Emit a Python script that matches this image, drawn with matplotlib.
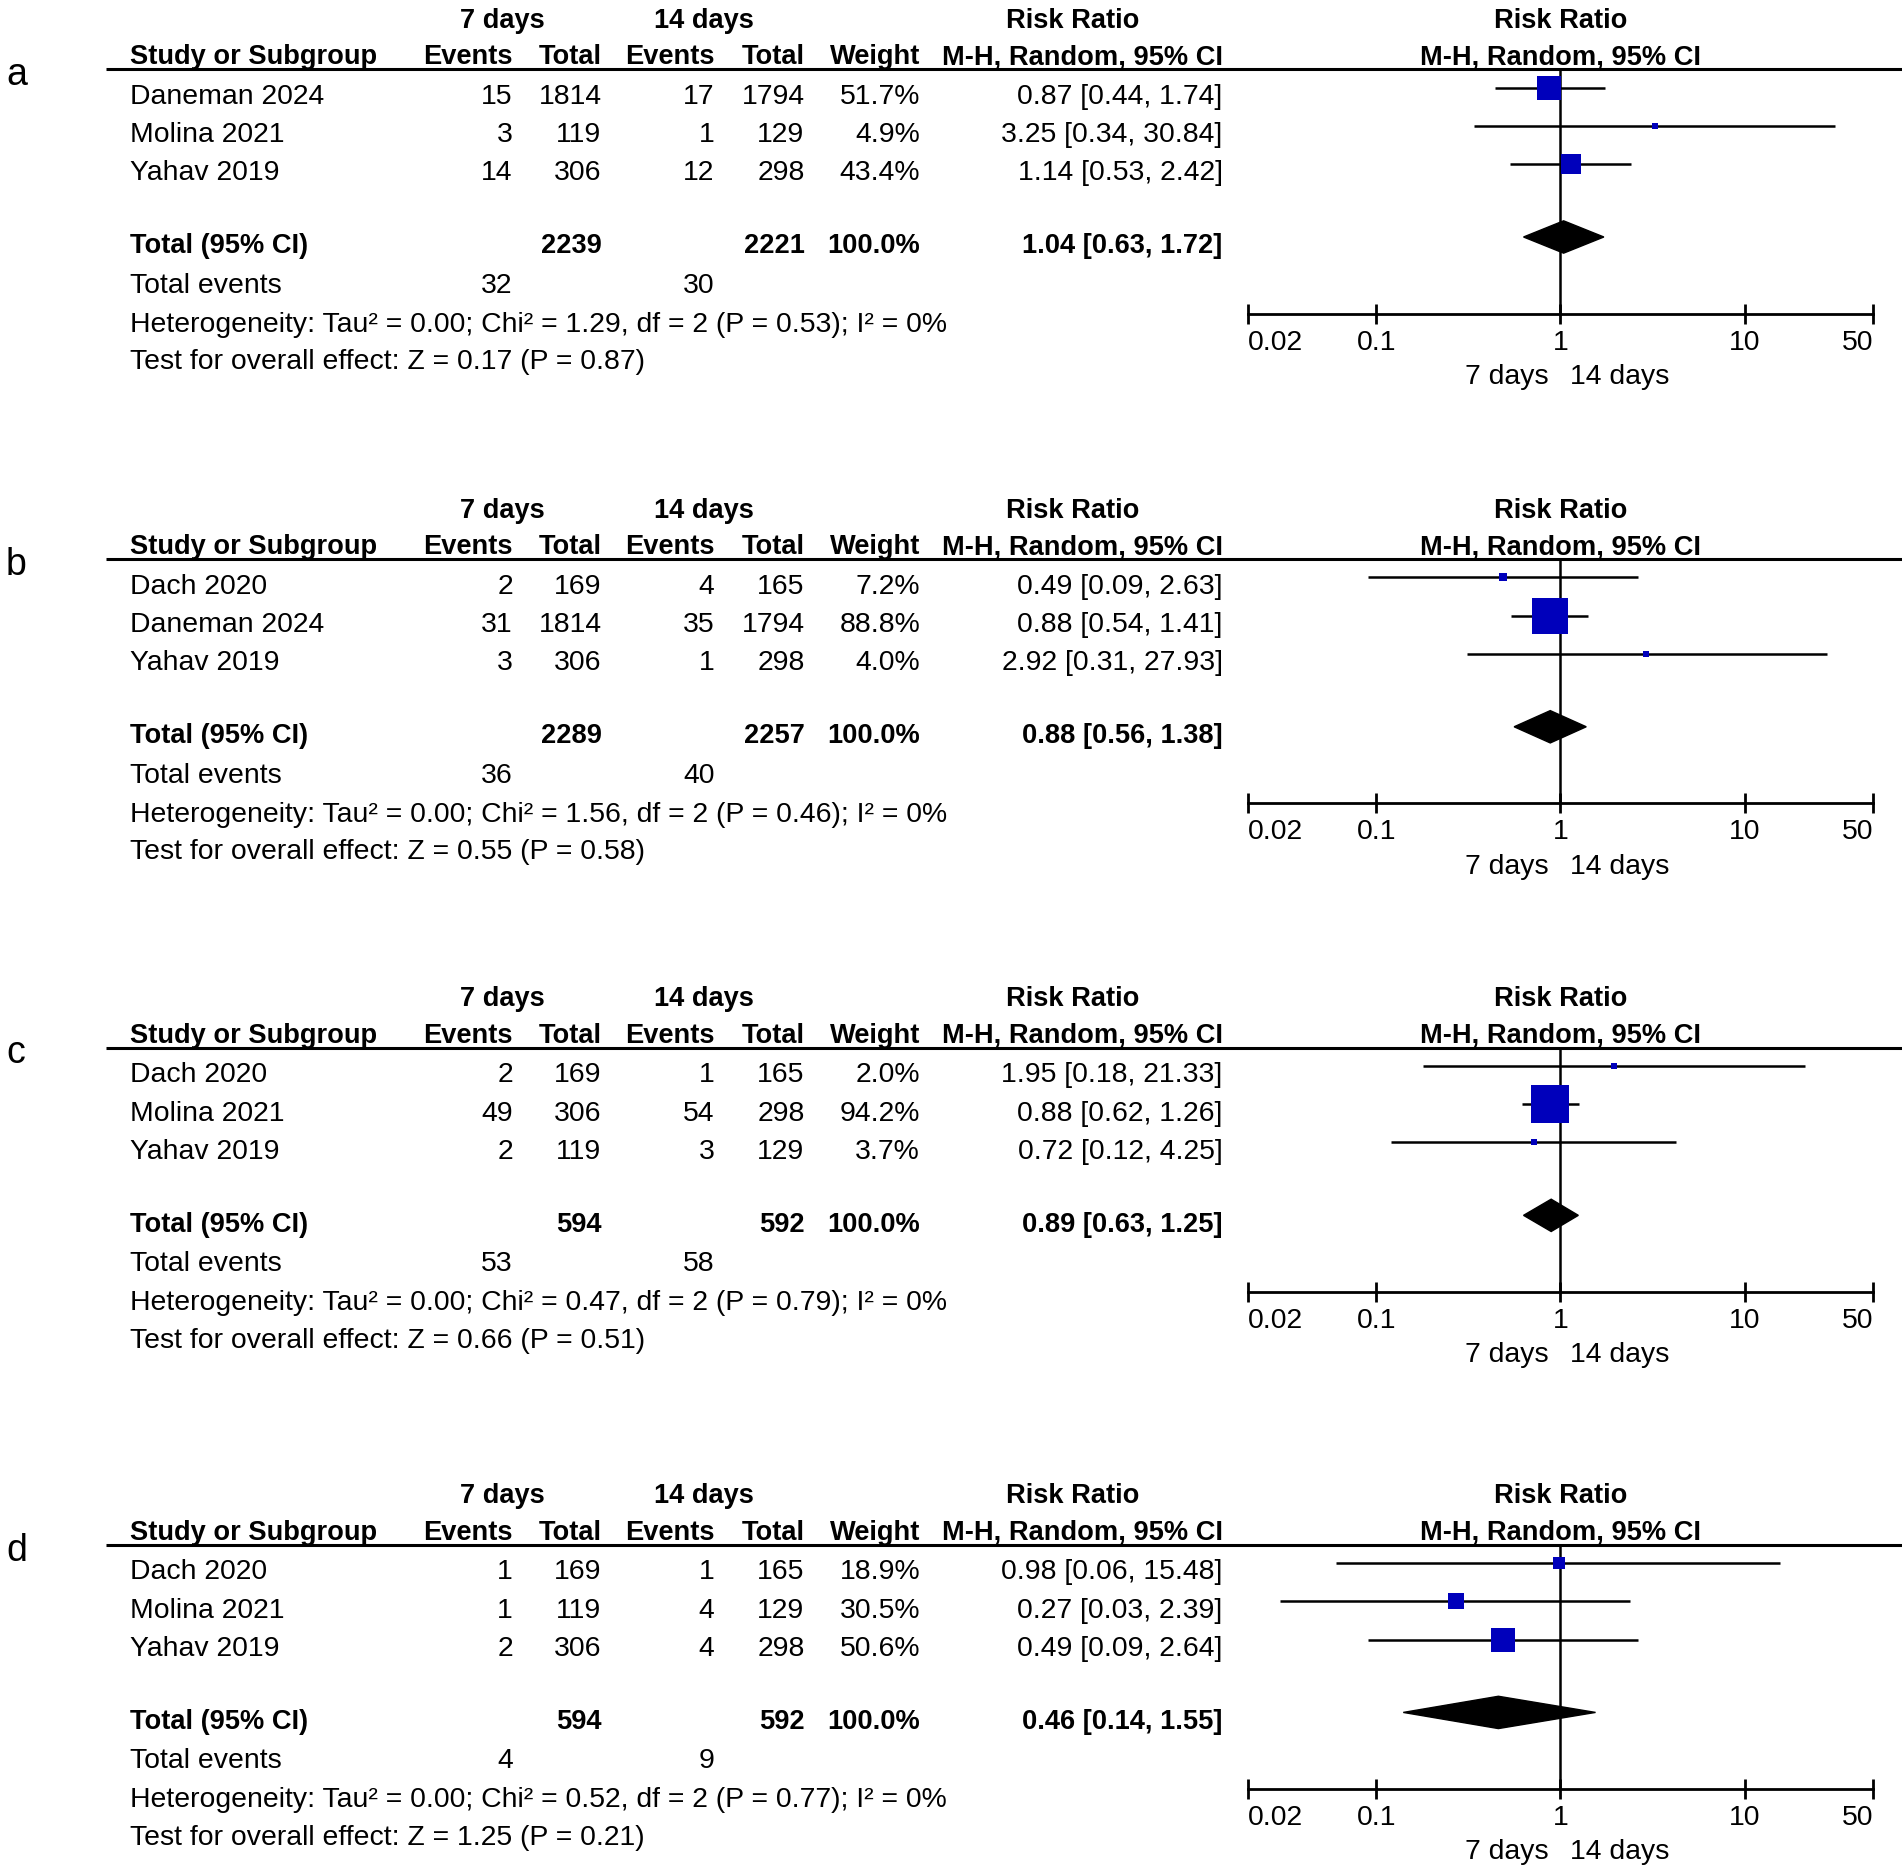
import numpy as np
import matplotlib.pyplot as plt
from matplotlib.patches import Polygon

plt.rcParams['font.family'] = ['Liberation Sans', 'DejaVu Sans']

# --- data -------------------------------------------------------------
panel_labels = ['a', 'b', 'c', 'd']
studies = [['Daneman 2024', 'Molina 2021', 'Yahav 2019'],
           ['Dach 2020', 'Daneman 2024', 'Yahav 2019'],
           ['Dach 2020', 'Molina 2021', 'Yahav 2019'],
           ['Dach 2020', 'Molina 2021', 'Yahav 2019']]
ev7 = [[15, 3, 14], [2, 31, 3], [2, 49, 2], [1, 1, 2]]
tot7 = [[1814, 119, 306], [169, 1814, 306], [169, 306, 119], [169, 119, 306]]
ev14 = [[17, 1, 12], [4, 35, 1], [1, 54, 3], [1, 4, 4]]
tot14 = [[1794, 129, 298], [165, 1794, 298], [165, 298, 129], [165, 129, 298]]
weights = [[51.7, 4.9, 43.4], [7.2, 88.8, 4.0], [2.0, 94.2, 3.7], [18.9, 30.5, 50.6]]
rr = [[0.87, 3.25, 1.14], [0.49, 0.88, 2.92], [1.95, 0.88, 0.72], [0.98, 0.27, 0.49]]
rr_lo = [[0.44, 0.34, 0.53], [0.09, 0.54, 0.31], [0.18, 0.62, 0.12], [0.06, 0.03, 0.09]]
rr_hi = [[1.74, 30.84, 2.42], [2.63, 1.41, 27.93], [21.33, 1.26, 4.25], [15.48, 2.39, 2.64]]
total7 = [2239, 2289, 594, 594]
total14 = [2221, 2257, 592, 592]
events7 = [32, 36, 53, 4]
events14 = [30, 40, 58, 9]
pooled_rr = [1.04, 0.88, 0.89, 0.46]
pooled_lo = [0.63, 0.56, 0.63, 0.14]
pooled_hi = [1.72, 1.38, 1.25, 1.55]
chi2 = [1.29, 1.56, 0.47, 0.52]
chi2_p = [0.53, 0.46, 0.79, 0.77]
z_val = [0.17, 0.55, 0.66, 1.25]
z_p = [0.87, 0.58, 0.51, 0.21]
tick_vals = [0.02, 0.1, 1, 10, 50]
tick_text = ['0.02', '0.1', '1', '10', '50']

# --- layout (units = reference pixels / 1.2153) ------------------------
W, H = 1565.0, 1540.3
offsets = [0, 403, 805, 1214]
FS = 20.4
FS_B = 19.6
BLUE = '#0000BB'

fig = plt.figure(figsize=(19.02, 18.72), dpi=100)
tab = fig.add_axes([0, 0, 1, 1])
tab.set_xlim(0, W)
tab.set_ylim(H, 0)
tab.axis('off')


def txt(x, y, s, ha='right', bold=False):
    # y is the visual centre of the cap height
    tab.text(x, y + 8, s, ha=ha, va='baseline',
             fontsize=FS_B if bold else FS,
             fontweight='bold' if bold else 'normal')


x_study, x_ev7, x_tot7, x_ev14, x_tot14, x_w, x_ci = 107, 422, 495, 588, 662, 757, 1006
x0, x1 = 1026.6, 1541.4   # forest axis span (0.02 .. 50)

for p in range(4):
    off = offsets[p]
    tab.text(5, off + 58 + 12, panel_labels[p], fontsize=27, ha='left', va='baseline')

    # headers
    txt(413, off + 15, '7 days', ha='center', bold=True)
    txt(579, off + 15, '14 days', ha='center', bold=True)
    txt(883, off + 15, 'Risk Ratio', ha='center', bold=True)
    txt(1284, off + 15, 'Risk Ratio', ha='center', bold=True)
    txt(x_study, off + 45, 'Study or Subgroup', ha='left', bold=True)
    for x, s in [(x_ev7, 'Events'), (x_tot7, 'Total'), (x_ev14, 'Events'),
                 (x_tot14, 'Total'), (x_w, 'Weight'), (x_ci, 'M-H, Random, 95% CI')]:
        txt(x, off + 45, s, bold=True)
    txt(1284, off + 45, 'M-H, Random, 95% CI', ha='center', bold=True)
    tab.plot([87, W], [off + 57, off + 57], color='black', lw=2.2,
             solid_capstyle='butt')

    # study rows
    for i in range(3):
        y = off + 77.5 + i * 31.5
        txt(x_study, y, studies[p][i], ha='left')
        txt(x_ev7, y, str(ev7[p][i]))
        txt(x_tot7, y, str(tot7[p][i]))
        txt(x_ev14, y, str(ev14[p][i]))
        txt(x_tot14, y, str(tot14[p][i]))
        txt(x_w, y, f'{weights[p][i]:.1f}%')
        txt(x_ci, y, f'{rr[p][i]:.2f} [{rr_lo[p][i]:.2f}, {rr_hi[p][i]:.2f}]')

    # totals
    y = off + 200.5
    txt(x_study, y, 'Total (95% CI)', ha='left', bold=True)
    txt(x_tot7, y, str(total7[p]), bold=True)
    txt(x_tot14, y, str(total14[p]), bold=True)
    txt(x_w, y, '100.0%', bold=True)
    txt(x_ci, y, f'{pooled_rr[p]:.2f} [{pooled_lo[p]:.2f}, {pooled_hi[p]:.2f}]', bold=True)
    txt(x_study, off + 233, 'Total events', ha='left')
    txt(x_ev7, off + 233, str(events7[p]))
    txt(x_ev14, off + 233, str(events14[p]))
    txt(x_study, off + 265,
        f'Heterogeneity: Tau² = 0.00; Chi² = {chi2[p]:.2f}, df = 2 (P = {chi2_p[p]:.2f}); I² = 0%',
        ha='left')
    txt(x_study, off + 296,
        f'Test for overall effect: Z = {z_val[p]:.2f} (P = {z_p[p]:.2f})', ha='left')

    # forest plot
    ax = fig.add_axes([x0 / W, 1 - (off + 258) / H, (x1 - x0) / W, 201 / H])
    ax.set_xscale('log')
    ax.set_xlim(0.02, 50)
    ax.set_ylim(258, 57)
    ax.patch.set_alpha(0)
    for s in ['top', 'left', 'right']:
        ax.spines[s].set_visible(False)
    ax.spines['bottom'].set_linewidth(2.0)
    ax.set_yticks([])
    ax.set_xticks(tick_vals)
    ax.set_xticklabels(tick_text, fontsize=FS)
    ax.xaxis.set_minor_locator(plt.NullLocator())
    ax.tick_params(axis='x', direction='inout', length=15, width=2.0, pad=4)
    labels = ax.get_xticklabels()
    labels[0].set_horizontalalignment('left')
    labels[-1].set_horizontalalignment('right')
    ax.axvline(1, color='black', lw=1.8)

    for i in range(3):
        y = 72 + i * 31.5
        ax.plot([rr_lo[p][i], rr_hi[p][i]], [y, y], color='black', lw=1.8,
                solid_capstyle='butt', clip_on=False)
        side = (4 + 0.295 * weights[p][i]) * 1.2153 * 0.72
        ax.plot(rr[p][i], y, marker='s', ms=side, color=BLUE, mec=BLUE,
                mew=0, ls='none', clip_on=False, zorder=3)
    yd = 195
    ax.add_patch(Polygon([(pooled_lo[p], yd), (pooled_rr[p], yd - 13.3),
                          (pooled_hi[p], yd), (pooled_rr[p], yd + 13.3)],
                         closed=True, color='black', zorder=3))

    txt(1274, off + 308, '7 days', ha='right')
    txt(1292, off + 308, '14 days', ha='left')

fig.savefig('out.png', dpi=100)
